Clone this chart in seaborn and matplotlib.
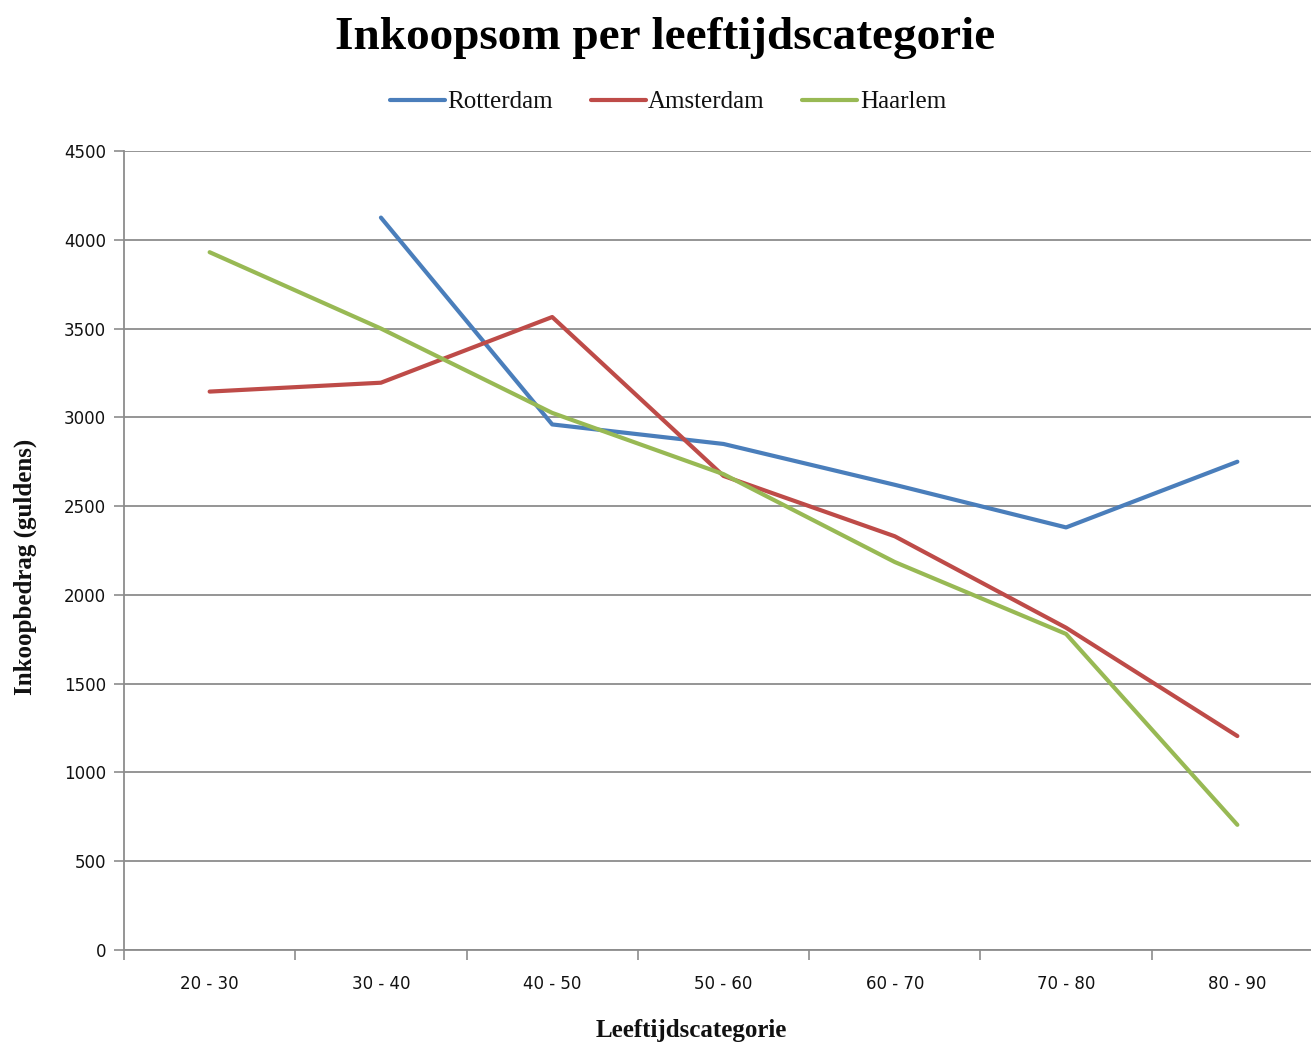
import pandas as pd
import numpy as np
import matplotlib
matplotlib.use("Agg")
import matplotlib.pyplot as plt
import seaborn as sns

# data
categories = ["20 - 30", "30 - 40", "40 - 50", "50 - 60", "60 - 70", "70 - 80", "80 - 90"]
rotterdam = [np.nan, 4125, 2960, 2850, 2620, 2380, 2750]
amsterdam = [3145, 3195, 3565, 2670, 2330, 1815, 1205]
haarlem = [3930, 3500, 3025, 2680, 2185, 1780, 705]
series_names = ["Rotterdam", "Amsterdam", "Haarlem"]
y_ticks = [0, 500, 1000, 1500, 2000, 2500, 3000, 3500, 4000, 4500]

colors = ["#4a7ebb", "#be4b48", "#98b954"]

# long-form table for seaborn
rows = []
for name, vals in zip(series_names, [rotterdam, amsterdam, haarlem]):
    for i, (cat, v) in enumerate(zip(categories, vals)):
        rows.append({"pos": i, "leeftijd": cat, "stad": name, "bedrag": v})
df = pd.DataFrame(rows).dropna()

sns.set_theme(style="white")
serif = ["Liberation Serif", "DejaVu Serif"]
txt = "#111111"

fig = plt.figure(figsize=(13.11, 10.46), dpi=100)
ax = fig.add_axes([124 / 1311, 96 / 1046, 1199 / 1311, 799 / 1046])

sns.lineplot(data=df, x="pos", y="bedrag", hue="stad", hue_order=series_names,
             palette=colors, linewidth=3.0, ax=ax, legend=True)

ax.set_xlim(-0.5, 6.5)
ax.set_ylim(0, 4500)
ax.set_yticks(y_ticks)
ax.set_yticklabels([str(t) for t in y_ticks], fontsize=12, family="DejaVu Sans", color=txt)
ax.yaxis.grid(True, color="#8c8c8c", linewidth=1.3)
ax.set_axisbelow(True)

# category labels centred, tick marks on the boundaries
ax.set_xticks(np.arange(-0.5, 7, 1))
ax.set_xticklabels([])
ax.set_xticks(np.arange(len(categories)), minor=True)
ax.set_xticklabels(categories, minor=True, fontsize=12, family="DejaVu Sans", color=txt)
ax.tick_params(axis="x", which="major", length=7, color="#8c8c8c", width=1.2, direction="out", bottom=True)
ax.tick_params(axis="x", which="minor", length=0, pad=18)
ax.tick_params(axis="y", length=7, color="#8c8c8c", width=1.2, direction="out", left=True, pad=6)

for side in ["top", "right"]:
    ax.spines[side].set_visible(False)
for side in ["left", "bottom"]:
    ax.spines[side].set_color("#8c8c8c")
    ax.spines[side].set_linewidth(1.3)

ax.set_xlabel("Leeftijdscategorie", family=serif, fontweight="bold", fontsize=18, color=txt)
ax.set_ylabel("Inkoopbedrag (guldens)", family=serif, fontweight="bold", fontsize=18, color=txt)
ax.xaxis.set_label_coords((691 - 124) / 1199, (950 - 1030) / 799)
ax.yaxis.set_label_coords((25 - 124) / 1199, (950 - 567) / 799)
ax.xaxis.label.set_va("center")
ax.yaxis.label.set_va("center")

fig.text(665 / 1311, 1 - 38 / 1046, "Inkoopsom per leeftijdscategorie", family=serif,
         fontweight="bold", fontsize=34, ha="center", va="center", color="black")

handles, labels = ax.get_legend_handles_labels()
ax.legend(handles, labels, loc="center", bbox_to_anchor=(668 / 1311, 1 - 102 / 1046),
          bbox_transform=fig.transFigure, ncol=3, frameon=False,
          prop={"family": serif, "size": 18}, handlelength=2.2, handletextpad=0.1,
          columnspacing=1.5, labelcolor=txt)

fig.savefig("out.png", dpi=100)
